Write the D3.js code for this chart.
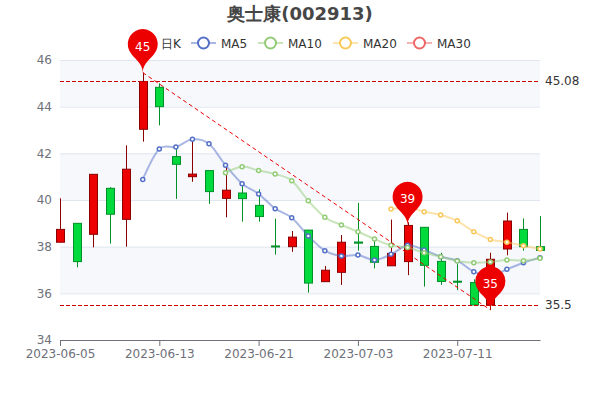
<!DOCTYPE html>
<meta charset='utf-8'>
<style>
    html, body {
        margin: 0;
        background: white;
    }

    svg {
        display: block;
        font-family: 'DejaVu Sans', sans-serif;
    }

    .axis text {
        fill: #6e7079;
        font-family: 'DejaVu Sans', sans-serif;
        font-size: 12px;
    }

    .axis path, .axis line {
        stroke: #6e7079;
    }
</style>
<title>奥士康(002913)</title>
<body>

<script src='https://cdn.jsdelivr.net/npm/d3@7/dist/d3.min.js'></script>
<script>

	let dates = ['2023-06-05', '2023-06-06', '2023-06-07', '2023-06-08', '2023-06-09', '2023-06-12',
		'2023-06-13', '2023-06-14', '2023-06-15', '2023-06-16', '2023-06-19', '2023-06-20',
		'2023-06-21', '2023-06-26', '2023-06-27', '2023-06-28', '2023-06-29', '2023-06-30',
		'2023-07-03', '2023-07-04', '2023-07-05', '2023-07-06', '2023-07-07', '2023-07-10',
		'2023-07-11', '2023-07-12', '2023-07-13', '2023-07-14', '2023-07-17', '2023-07-18'];
	let tickDates = ['2023-06-05', '2023-06-13', '2023-06-21', '2023-07-03', '2023-07-11'];
	let yTicks = [34, 36, 38, 40, 42, 44, 46];

	let opens = [38.19, 39.0, 38.53, 40.5, 39.17, 43.03, 44.83, 41.86, 41.0, 41.26, 40.07, 40.3, 39.77, 38.03, 38.0,
		38.71, 36.5, 36.9, 38.2, 38.01, 37.18, 37.36, 38.83, 37.37, 36.52, 36.46, 35.5, 37.9, 38.74, 38.0];
	let closes = [38.74, 37.36, 41.1, 39.39, 41.32, 45.08, 44.0, 41.53, 41.11, 40.36, 40.42, 40.06, 39.29, 38.0, 38.41,
		36.44, 36.99, 38.19, 38.15, 37.33, 37.71, 38.91, 37.2, 36.51, 36.48, 35.5, 37.46, 39.1, 38.0, 37.84];
	let lows = [38.19, 37.12, 37.97, 38.13, 38.0, 42.5, 43.2, 40.05, 40.78, 39.83, 39.26, 39.07, 39.07, 37.66, 37.78,
		36.03, 36.5, 36.36, 37.83, 37.07, 37.18, 36.78, 36.29, 36.36, 36.14, 35.5, 35.29, 37.63, 37.83, 37.84];
	let highs = [40.07, 39.0, 41.1, 40.55, 42.34, 45.46, 45.0, 42.2, 42.6, 41.26, 41.58, 40.6, 40.46, 39.2, 38.67,
		38.71, 37.17, 38.5, 39.88, 38.34, 39.16, 39.05, 38.83, 37.74, 37.25, 36.6, 37.74, 39.46, 39.21, 39.31];

	let ma5 = [null, null, null, null, null, 40.88, 42.19, 42.27, 42.6, 42.41, 41.49, 40.7, 40.26, 39.63, 39.24,
		38.46, 37.83, 37.6, 37.64, 37.43, 37.67, 38.06, 37.86, 37.57, 37.4, 36.93, 36.74, 37.03, 37.31, 37.53];
	let ma10 = [null, null, null, null, null, null, null, null, null, null, 41.17, 41.43, 41.26, 41.11, 40.83,
		39.97, 39.26, 38.93, 38.64, 38.33, 38.06, 37.96, 37.74, 37.57, 37.39, 37.31, 37.34, 37.43, 37.4, 37.5];
	let ma20 = [null, null, null, null, null, null, null, null, null, null, null, null, null, null, null,
		null, null, null, null, null, 39.61, 39.68, 39.5, 39.36, 39.11, 38.64, 38.31, 38.19, 38.04, 37.9];

	let legendNames = ['MA5', 'MA10', 'MA20', 'MA30'];
	let legendColors = ['#5470c6', '#91cc75', '#fac858', '#ee6666'];
	let legendX = [191, 258, 333, 407];

	let pinIndex = [5, 21, 26];
	let pinValue = [45.46, 38.91, 35.29];
	let pinLabel = ['45', '39', '35'];
	let markValues = [45.08, 35.5];
	let markLabels = ['45.08', '35.5'];

	let margin = {top: 60, right: 60, bottom: 60, left: 60},
		width = 600 - margin.left - margin.right,
		height = 400 - margin.top - margin.bottom;

	let svg = d3.select('body').append('svg')
		.attr('width', 600)
		.attr('height', 400);

	let g = svg.append('g')
		.attr('transform', 'translate(' + margin.left + ',' + margin.top + ')');

	let x = d3.scalePoint().domain(dates).range([0, width]);
	let y = d3.scaleLinear().domain([34, 46]).range([height, 0]);

	// alternating bands, top one is shaded
	g.selectAll('.band')
		.data(d3.pairs(yTicks).filter(function (d, i) { return i % 2 === 1; }))
		.enter().append('rect')
		.attr('x', 0)
		.attr('width', width)
		.attr('y', function (d) { return y(d[1]); })
		.attr('height', function (d) { return y(d[0]) - y(d[1]); })
		.attr('fill', '#f6f8fc');

	g.selectAll('.grid')
		.data(yTicks.slice(1))
		.enter().append('line')
		.attr('x1', 0)
		.attr('x2', width)
		.attr('y1', function (d) { return y(d) + 0.5; })
		.attr('y2', function (d) { return y(d) + 0.5; })
		.attr('stroke', '#e0e6f1');

	g.append('g')
		.attr('class', 'axis')
		.call(d3.axisLeft(y).tickValues(yTicks).tickSize(0).tickPadding(8))
		.call(function (a) { a.select('.domain').remove(); });

	g.append('g')
		.attr('class', 'axis')
		.attr('transform', 'translate(0,' + height + ')')
		.call(d3.axisBottom(x).tickValues(tickDates).tickSizeOuter(0).tickPadding(3));

	// candles
	let candleW = 7;
	dates.forEach(function (d, i) {
		let up = closes[i] > opens[i];
		let fill = up ? '#ec0000' : '#00da3c';
		let edge = up ? '#8a0000' : '#008f28';
		let cx = Math.round(x(d)) + 0.5;
		let top = y(Math.max(opens[i], closes[i]));
		let bottom = y(Math.min(opens[i], closes[i]));
		g.append('line')
			.attr('x1', cx).attr('x2', cx)
			.attr('y1', y(highs[i])).attr('y2', y(lows[i]))
			.attr('stroke', edge);
		g.append('rect')
			.attr('x', cx - candleW / 2 - 0.5)
			.attr('width', candleW + 1)
			.attr('y', top)
			.attr('height', Math.max(bottom - top, 1))
			.attr('fill', fill)
			.attr('stroke', edge);
	});

	// moving averages
	let line = d3.line()
		.defined(function (d) { return d !== null; })
		.x(function (d, i) { return x(dates[i]); })
		.y(function (d) { return y(d); })
		.curve(d3.curveCardinal.tension(0));

	[ma5, ma10, ma20].forEach(function (series, s) {
		g.append('path')
			.attr('d', line(series))
			.attr('fill', 'none')
			.attr('stroke', legendColors[s])
			.attr('stroke-width', 2)
			.attr('stroke-opacity', 0.5);
		series.forEach(function (v, i) {
			if (v === null) return;
			g.append('circle')
				.attr('cx', x(dates[i]))
				.attr('cy', y(v))
				.attr('r', 2)
				.attr('fill', 'white')
				.attr('stroke', legendColors[s])
				.attr('stroke-width', 1.5);
		});
	});

	// mark lines
	markValues.forEach(function (v, i) {
		g.append('line')
			.attr('x1', 0)
			.attr('x2', width - 2)
			.attr('y1', Math.round(y(v)) + 0.5)
			.attr('y2', Math.round(y(v)) + 0.5)
			.attr('stroke', '#c80000')
			.attr('stroke-dasharray', '4,2');
		g.append('text')
			.attr('x', width + 5)
			.attr('y', y(v) + 4)
			.attr('font-size', 12)
			.attr('fill', '#333')
			.text(markLabels[i]);
	});

	g.append('line')
		.attr('x1', x(dates[pinIndex[0]]))
		.attr('y1', y(pinValue[0]))
		.attr('x2', x(dates[pinIndex[2]]))
		.attr('y2', y(pinValue[2]))
		.attr('stroke', '#ec0000')
		.attr('stroke-dasharray', '4,3');

	// pins, same outline echarts uses for its 'pin' symbol at size 50
	function pinPath(px, py) {
		let w = 30, h = 50, r = w / 2;
		let dy = r * r / (h - r);
		let cy = py - h + r + dy;
		let angle = Math.asin(dy / r);
		let dx = Math.cos(angle) * r;
		let tanX = Math.sin(angle);
		let tanY = Math.cos(angle);
		let p = d3.path();
		p.moveTo(px - dx, cy + dy);
		p.arc(px, cy, r, Math.PI - angle, Math.PI * 2 + angle);
		p.bezierCurveTo(px + dx - tanX * r * 0.6, cy + dy + tanY * r * 0.6, px, py - r * 0.7, px, py);
		p.bezierCurveTo(px, py - r * 0.7, px - dx + tanX * r * 0.6, cy + dy + tanY * r * 0.6, px - dx, cy + dy);
		p.closePath();
		return p.toString();
	}

	// legend
	let legend = svg.append('g').attr('transform', 'translate(0,43)');

	legend.append('text')
		.attr('x', 161)
		.attr('y', 4.5)
		.attr('font-size', 12)
		.attr('fill', '#333')
		.text('日K');

	legendNames.forEach(function (name, i) {
		let item = legend.append('g').attr('transform', 'translate(' + legendX[i] + ',0)');
		item.append('line')
			.attr('x1', 0).attr('x2', 25)
			.attr('stroke', legendColors[i])
			.attr('stroke-width', 2)
			.attr('stroke-opacity', 0.5);
		item.append('circle')
			.attr('cx', 12.5)
			.attr('r', 5.5)
			.attr('fill', 'white')
			.attr('stroke', legendColors[i])
			.attr('stroke-width', 2);
		item.append('text')
			.attr('x', 30)
			.attr('y', 4.5)
			.attr('font-size', 12)
			.attr('fill', '#333')
			.text(name);
	});

	pinIndex.forEach(function (idx, i) {
		let px = x(dates[idx]), py = y(pinValue[i]);
		g.append('path')
			.attr('d', pinPath(px, py))
			.attr('fill', '#ec0000');
		g.append('text')
			.attr('x', px)
			.attr('y', py - 22)
			.attr('text-anchor', 'middle')
			.attr('font-size', 12)
			.attr('fill', 'white')
			.text(pinLabel[i]);
	});

	svg.append('text')
		.attr('x', 300)
		.attr('y', 20)
		.attr('text-anchor', 'middle')
		.attr('font-size', 18)
		.attr('font-weight', 'bold')
		.attr('fill', '#464646')
		.text('奥士康(002913)');

</script>
</body>
